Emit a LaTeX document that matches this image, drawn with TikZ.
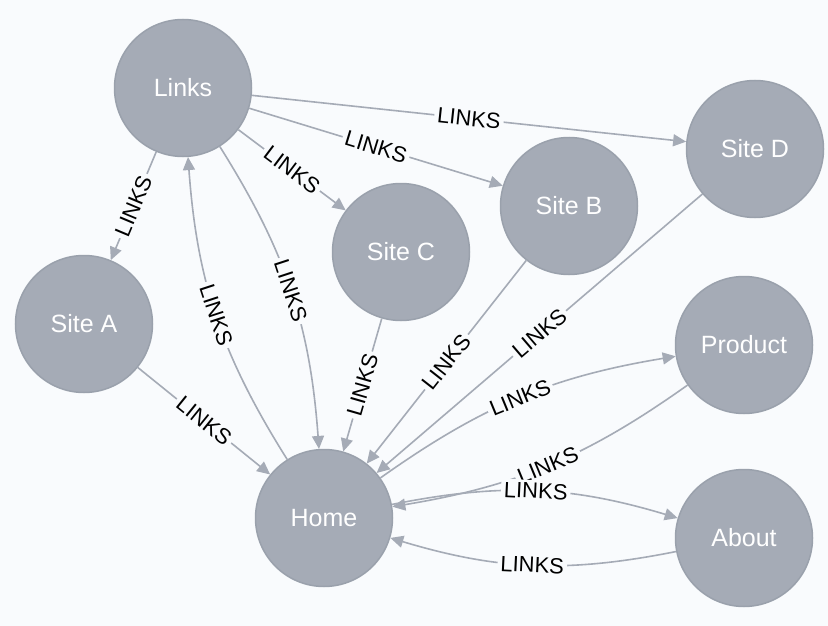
\documentclass[tikz,border=0pt]{standalone}
\usepackage{fontspec}
\setmainfont{Liberation Sans}
\usetikzlibrary{arrows.meta}
\definecolor{canvas}{HTML}{F9FBFD}
\definecolor{nodefill}{HTML}{A5ABB6}
\definecolor{nodeline}{HTML}{9AA1AC}
\definecolor{relline}{HTML}{A5ABB6}

\begin{document}
\begin{tikzpicture}[x=1pt, y=-1pt,
  pagenode/.style={circle, fill=nodefill, draw=nodeline, line width=1.5pt,
    minimum size=137pt, inner sep=0pt, text=white,
    font=\fontsize{25}{30}\selectfont},
  rel/.style={draw=relline, line width=1.6pt,
    -{Triangle[length=13pt, width=12pt]}},
  rellabel/.style={sloped, fill=canvas, inner sep=3pt, text=black,
    font=\fontsize{22}{26}\selectfont}
]
% canvas
\fill[canvas] (0,0) rectangle (828,626);
\useasboundingbox (0,0) rectangle (828,626);

% pages
\node[pagenode] (links)   at (183,88)  {Links};
\node[pagenode] (siteA)   at (84,324)  {Site A};
\node[pagenode] (siteC)   at (401,252) {Site C};
\node[pagenode] (siteB)   at (569,206) {Site B};
\node[pagenode] (siteD)   at (755,149) {Site D};
\node[pagenode] (product) at (744,345) {Product};
\node[pagenode] (home)    at (324,518) {Home};
\node[pagenode] (about)   at (744,538) {About};

% relationships: source / target / bend angle
\def\rellist{links/siteA/0, links/siteC/0, links/siteB/0, links/siteD/0,
  links/home/14, home/links/14,
  siteA/home/0, siteC/home/0, siteB/home/0, siteD/home/0,
  home/product/13, product/home/13,
  home/about/14, about/home/14}

% lines first, then the labels on top of them
\foreach \src/\dst/\bend in \rellist {
  \draw[rel] (\src) to[bend left=\bend] (\dst);
}
\foreach \src/\dst/\bend in \rellist {
  \path (\src) to[bend left=\bend] node[rellabel] {LINKS} (\dst);
}
\end{tikzpicture}
\end{document}
